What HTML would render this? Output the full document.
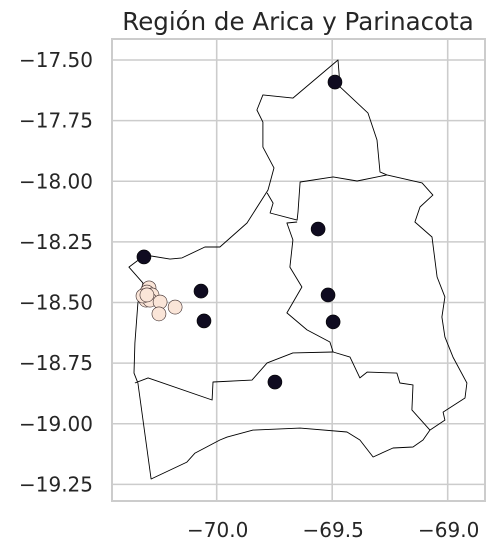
<!DOCTYPE html>
<html><head><meta charset="utf-8">
<style>
html,body{margin:0;padding:0;background:#fff;}
svg{display:block;font-family:"DejaVu Sans","Liberation Sans",sans-serif;}
</style></head>
<body>
<svg id="chart" width="494" height="551" viewBox="0 0 494 551">
  <text x="298" y="30" text-anchor="middle" font-size="24.5" fill="#262626">Región de Arica y Parinacota</text>
  <g id="grid"></g>
  <g id="shapes"></g>
  <g id="points"></g>
  <rect x="112" y="39" width="373" height="462" fill="none" stroke="#cccccc" stroke-width="2"/>
  <g id="ticks"></g>
</svg>
<script>
const xTicks = [-70.0, -69.5, -69.0];
const xTickLabels = ["−70.0", "−69.5", "−69.0"];
const yTicks = [-17.5, -17.75, -18.0, -18.25, -18.5, -18.75, -19.0, -19.25];
const yTickLabels = ["−17.50", "−17.75", "−18.00", "−18.25", "−18.50", "−18.75", "−19.00", "−19.25"];

const outerLon = [-69.475,-69.670,-69.800,-69.826,-69.800,-69.800,-69.752,-69.778,-69.869,-69.986,-70.051,-70.150,-70.202,-70.310,-70.380,-70.319,-70.341,-70.354,-70.358,-70.341,-70.284,-70.129,-70.094,-69.986,-69.955,-69.843,-69.639,-69.436,-69.380,-69.323,-69.237,-69.150,-69.107,-69.077,-69.012,-69.020,-68.925,-68.917,-68.977,-69.012,-69.025,-69.012,-69.046,-69.068,-69.142,-69.120,-69.064,-69.111,-69.263,-69.293,-69.306,-69.345,-69.466];
const outerLat = [-17.500,-17.657,-17.644,-17.706,-17.756,-17.859,-17.945,-18.036,-18.172,-18.271,-18.271,-18.316,-18.321,-18.304,-18.354,-18.420,-18.502,-18.667,-18.791,-18.832,-19.228,-19.158,-19.121,-19.067,-19.055,-19.026,-19.018,-19.034,-19.067,-19.137,-19.100,-19.096,-19.067,-19.026,-18.985,-18.952,-18.894,-18.832,-18.725,-18.642,-18.560,-18.477,-18.395,-18.230,-18.168,-18.106,-18.057,-18.007,-17.974,-17.962,-17.830,-17.719,-17.611];
const lineALon = [-69.782,-69.756,-69.769,-69.652,-69.648,-69.639,-69.496,-69.392,-69.263];
const lineALat = [-18.048,-18.090,-18.131,-18.160,-18.127,-18.003,-17.982,-17.999,-17.974];
const lineBLon = [-69.652,-69.696,-69.670,-69.683,-69.631,-69.696,-69.609,-69.510,-69.496,-69.423,-69.380,-69.349,-69.220,-69.207,-69.150,-69.155,-69.077];
const lineBLat = [-18.168,-18.172,-18.242,-18.354,-18.436,-18.543,-18.613,-18.663,-18.704,-18.725,-18.811,-18.787,-18.791,-18.832,-18.840,-18.943,-19.026];
const lineCLon = [-69.496,-69.670,-69.782,-69.847,-70.016,-70.020,-70.297,-70.354];
const lineCLat = [-18.704,-18.708,-18.749,-18.820,-18.828,-18.902,-18.811,-18.832];

const lightLon = [-70.293,-70.302,-70.289,-70.310,-70.297,-70.280,-70.306,-70.289,-70.319,-70.302,-70.245,-70.180,-70.250];
const lightLat = [-18.440,-18.457,-18.473,-18.477,-18.481,-18.469,-18.490,-18.490,-18.473,-18.469,-18.498,-18.519,-18.547];
const darkLon = [-69.488,-69.561,-70.315,-70.068,-70.055,-69.518,-69.496,-69.748];
const darkLat = [-17.591,-18.197,-18.312,-18.453,-18.576,-18.469,-18.580,-18.828];

const NS = "http://www.w3.org/2000/svg";
const X0 = 112, X1 = 485, Y0 = 39, Y1 = 501;
function xs(lon){ return 216.7 + (lon + 70) * 231; }
function ys(lat){ return 60 + (-17.5 - lat) * 242.5; }
function mk(tag, attrs, parent){
  const e = document.createElementNS(NS, tag);
  for (const k in attrs) e.setAttribute(k, attrs[k]);
  parent.appendChild(e); return e;
}
const grid = document.getElementById('grid');
const ticks = document.getElementById('ticks');
xTicks.forEach((v,i)=>{
  const l = mk('line',{x1:xs(v),x2:xs(v),y1:Y0,y2:Y1,stroke:'#cccccc','stroke-width':1.6},grid);
  
  
  const t = mk('text',{x:xs(v)+1,y:537,'text-anchor':'middle','font-size':20,fill:'#262626'},ticks);
  t.textContent = xTickLabels[i];
  
  
});
yTicks.forEach((v,i)=>{
  const l = mk('line',{x1:X0,x2:X1,y1:ys(v),y2:ys(v),stroke:'#cccccc','stroke-width':1.6},grid);
  
  
  const t = mk('text',{x:93,y:ys(v)+7,'text-anchor':'end','font-size':20,fill:'#262626'},ticks);
  t.textContent = yTickLabels[i];
  
  
});
const shapes = document.getElementById('shapes');
function pts(lo, la){ return lo.map((v,i)=>xs(v).toFixed(1)+','+ys(la[i]).toFixed(1)).join(' '); }
const outer = mk('polygon',{points:pts(outerLon,outerLat),fill:'none',stroke:'#000','stroke-width':0.9,'stroke-linejoin':'round'},shapes);


[[lineALon,lineALat],[lineBLon,lineBLat],[lineCLon,lineCLat]].forEach(p=>{
  const pl = mk('polyline',{points:pts(p[0],p[1]),fill:'none',stroke:'#000','stroke-width':0.9,'stroke-linejoin':'round'},shapes);
  
  
});
const points = document.getElementById('points');
lightLon.forEach((v,i)=>{
  const c = mk('circle',{cx:xs(v),cy:ys(lightLat[i]),r:7,fill:'#fae5d8',stroke:'#3a2a2a','stroke-width':0.6},points);
  
  
});
darkLon.forEach((v,i)=>{
  const c = mk('circle',{cx:xs(v),cy:ys(darkLat[i]),r:7,fill:'#0f0b20',stroke:'#000','stroke-width':0.6},points);
  
  
});
</script>
</body></html>
